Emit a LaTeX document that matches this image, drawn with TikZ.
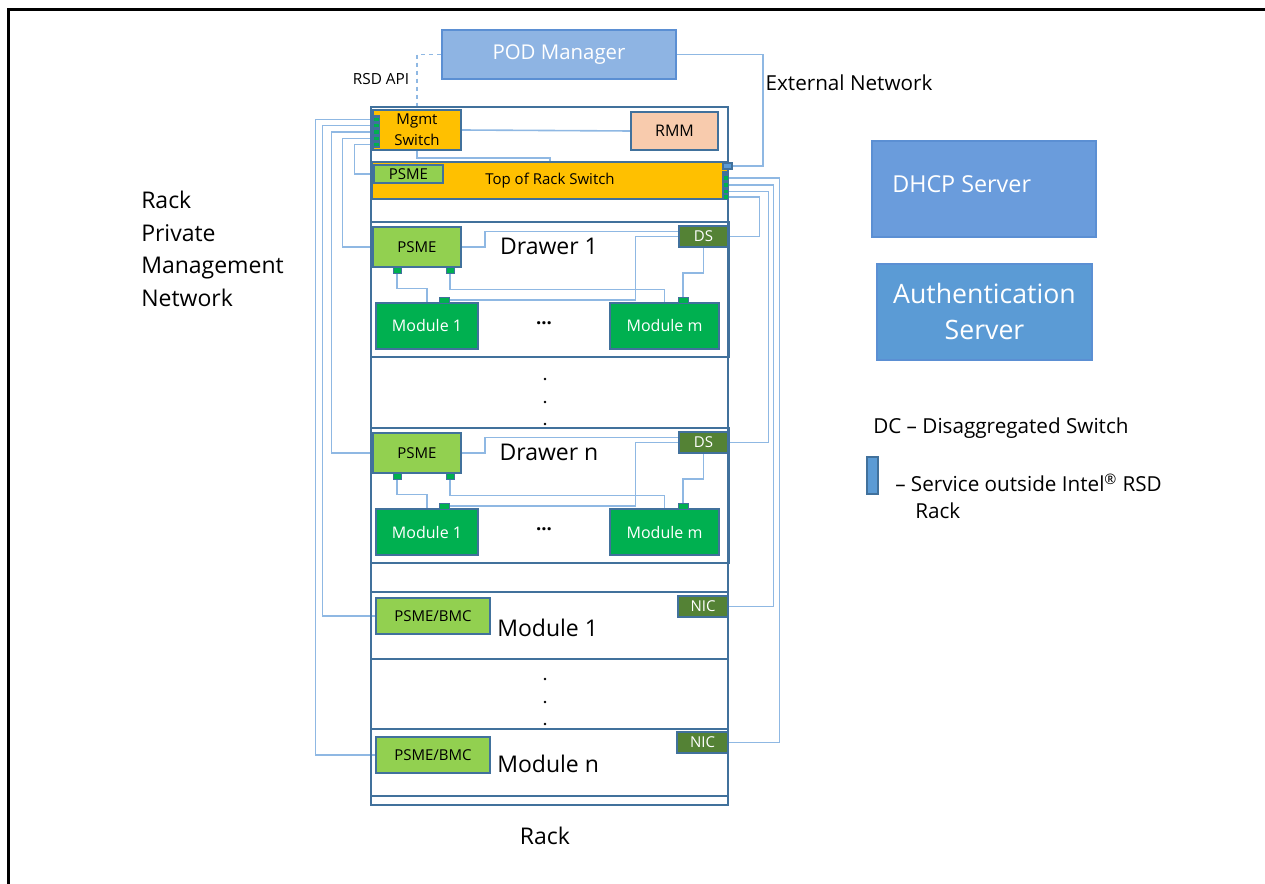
\documentclass[tikz,border=0pt]{standalone}
\usepackage{fontspec}
\setmainfont{Open Sans}
\usetikzlibrary{backgrounds}
\definecolor{bord}{HTML}{41719C}
\definecolor{conn}{HTML}{8FB8E3}
\definecolor{orng}{HTML}{FFC000}
\definecolor{pinkc}{HTML}{F8CBAD}
\definecolor{lgreen}{HTML}{92D050}
\definecolor{mgreen}{HTML}{00B050}
\definecolor{dgreen}{HTML}{548235}
\definecolor{podfill}{HTML}{8EB4E3}
\definecolor{podbord}{HTML}{5B8FD3}
\definecolor{dhcpfill}{HTML}{6A9CDC}
\definecolor{authfill}{HTML}{5B9BD5}

\newcommand\rackdrawer[3]{%
\begin{scope}[yshift=#2]
\draw[bord, line width=1.9pt] (371,222) rectangle (729,357);
\node[box, fill=lgreen, sz={88}{40}, t15] (psme#1) at (417,247) {PSME};
\node[box, fill=dgreen, text=white, sz={49}{21}, t15] (ds#1) at (703.5,236.5) {DS};
\node[box, fill=mgreen, text=white, sz={102}{46}, t16] (ma#1) at (427,326) {Module 1};
\node[box, fill=mgreen, text=white, sz={109}{46}, t16] (mm#1) at (664.5,326) {Module m};
\node[port, sz={8}{6}] (pa#1) at (397,270) {};
\node[port, sz={8}{6}] (pb#1) at (450,270) {};
\node[port, sz={10}{6}] (qa#1) at (444,300) {};
\node[port, sz={10}{6}] (qm#1) at (683,300) {};
\node[t23] (dl#1) at (549,246) {#3};
\node[font=\bfseries\fontsize{14pt}{16pt}\selectfont] (dd#1) at (544,323) {...};
\begin{scope}[on background layer]
\draw[cn] (psme#1.east) -- ++(23,0) |- ([yshift=3.75pt]ds#1.west);
\draw[cn] (pa#1.south) -- ++(0,15) -| (ma#1.north);
\draw[cn] (pb#1.south) -- ++(0,16) -| (mm#1.north);
\draw[cn] (ds#1.south) -- ++(0,25) -| (qm#1.north);
\draw[cn] (qa#1.east) -- ++(186,0) |- (ds#1.west);
\end{scope}
\end{scope}}

\begin{document}
\begin{tikzpicture}[x=0.75pt,y=-0.75pt,
  box/.style={draw=bord, line width=1.1pt, inner sep=0pt, align=center},
  sz/.style 2 args={minimum width=#1*0.75pt, minimum height=#2*0.75pt},
  cn/.style={draw=conn, line width=1.2pt},
  port/.style={draw=bord, fill=mgreen, line width=0.5pt, inner sep=0pt},
  t14/.style={font=\fontsize{10.5pt}{12pt}\selectfont},
  t15/.style={font=\fontsize{11.25pt}{13pt}\selectfont},
  t16/.style={font=\fontsize{12pt}{14pt}\selectfont},
  t19/.style={font=\fontsize{15.5pt}{18pt}\selectfont},
  t23/.style={font=\fontsize{17.25pt}{24.4pt}\selectfont},
  dot/.style={fill=black},
]
\clip (0,0) rectangle (1265,884);
\useasboundingbox (0,0) rectangle (1265,884);
% outer frame
\draw[black, line width=2pt] (8.7,900) -- (8.7,9.7) -- (1280,9.7);

% POD manager
\node[box, draw=podbord, line width=1.6pt, fill=podfill, text=white, sz={234}{49}, font=\fontsize{15.3pt}{18pt}\selectfont] (pod) at (559,54.5) {POD Manager};
\node[font=\fontsize{11.5pt}{14pt}\selectfont] (rsdapi) at (381,79) {RSD API};
\node[t19] (extnet) at (849,83) {External Network};

% rack frame and sections
\draw[bord, line width=1.1pt] (371,107) rectangle (728,805);
\draw[bord, line width=1.1pt] (371,592) rectangle (728,659);
\draw[bord, line width=1.9pt] (371,729) rectangle (728,796);

% top section
\node[box, fill=orng, sz={88}{40}, font=\fontsize{11.25pt}{15.75pt}\selectfont] (mgmt) at (417,130) {Mgmt\\Switch};
\node[box, fill=pinkc, sz={87}{38}, t16] (rmm) at (674.5,131) {RMM};
\node[box, fill=orng, sz={356}{37}, t15] (tor) at (550,180.5) {\raisebox{-3pt}{Top of Rack Switch}};
\node[box, fill=lgreen, sz={69}{18}, t15] (torpsme) at (408.5,174) {PSME};
\draw[bord, line width=1.9pt] (372,162) -- (372,199);

% mgmt ports
\fill[bord] (371,115) rectangle (380,148);
\node[port, sz={6}{4.5}] (mp1) at (376,119.5) {};
\node[port, sz={6}{4.5}] (mp2) at (376,125.5) {};
\node[port, sz={6}{4.5}] (mp3) at (376,132) {};
\node[port, sz={6}{4.5}] (mp4) at (376,138.5) {};
\node[port, sz={6}{4.5}] (mp5) at (376,144.5) {};

% TOR ports
\fill[bord] (722,171) rectangle (729,200);
\node[port, sz={5}{4.5}] (tp1) at (725.5,178) {};
\node[port, sz={5}{4.5}] (tp2) at (725.5,185) {};
\node[port, sz={5}{4.5}] (tp3) at (725.5,191.5) {};
\node[port, sz={5}{4.5}] (tp4) at (725.5,197) {};
\node[draw=bord, fill=authfill, line width=0.8pt, inner sep=0pt, sz={9}{6}] (ext) at (727.5,166) {};

% drawers
\rackdrawer{1}{0pt}{Drawer 1}
\rackdrawer{n}{-154.5pt}{Drawer n}

% dots between sections
\fill[dot] (545,379) circle (1.3);
\fill[dot] (545,402) circle (1.3);
\fill[dot] (545,424) circle (1.3);
\fill[dot] (545,679) circle (1.3);
\fill[dot] (545,702) circle (1.3);
\fill[dot] (545,724) circle (1.3);

% modules
\node[box, fill=lgreen, sz={114}{36}, t15] (bmc1) at (433,616) {PSME/BMC};
\node[box, fill=dgreen, text=white, sz={50}{21}, t15] (nic1) at (703,606.5) {NIC};
\node[t23, anchor=west, inner sep=0pt] (mod1) at (497,628) {Module 1};
\node[box, fill=lgreen, sz={114}{36}, t15] (bmcn) at (433,755) {PSME/BMC};
\node[box, fill=dgreen, text=white, sz={51}{21}, t15] (nicn) at (702.5,742.5) {NIC};
\node[t23, anchor=west, inner sep=0pt] (modn) at (497,764) {Module n};
\node[t23] (rack) at (545,836) {Rack};

% left label
\node[t23, anchor=west, align=left, inner sep=0pt] (rpmn) at (141,249) {Rack\\Private\\Management\\Network};

% right side
\node[box, draw=podbord, fill=dhcpfill, sz={224}{96}] (dhcp) at (984,189) {};
\node[anchor=west, text=white, inner sep=0pt, font=\fontsize{17.5pt}{20pt}\selectfont] (dhcpt) at (892,184) {DHCP Server};
\node[box, draw=podbord, fill=authfill, text=white, sz={215}{96}, font=\fontsize{20pt}{27pt}\selectfont] (auth) at (984.5,312) {Authentication\\Server};

% legend
\node[t19, anchor=west, inner sep=0pt] (leg1) at (873,428) {DC – Disaggregated Switch};
\node[draw=bord, fill=authfill, line width=0.8pt, inner sep=0pt, sz={11}{37}] (legbox) at (872.5,475.5) {};
\node[t19, anchor=west, inner sep=0pt] (leg2) at (895,483) {– Service outside Intel\textsuperscript{®} RSD};
\node[t19, anchor=west, inner sep=0pt] (leg3) at (915,511) {Rack};

% connectors
\begin{scope}[on background layer]
\draw[cn, dashed] (pod.west) -| (mgmt.north);
\draw[cn] (pod.east) -- ++(86,0) |- (ext.east);
\draw[cn] (mgmt.east) -- (rmm.west);
\draw[cn] (mgmt.south) -- ++(0,7) -| (tor.north);
\draw[cn] (mp5.west) -- ++(-18,0) |- (torpsme.west);
\draw[cn] (mp4.west) -- ++(-30,0) |- (psme1.west);
\draw[cn] (mp3.west) -- ++(-41,0) |- (psmen.west);
\draw[cn] (mp2.west) -- ++(-50,0) |- (bmc1.west);
\draw[cn] (mp1.west) -- ++(-57,0) |- (bmcn.west);
\draw[cn] (tp1.east) -- ++(51,0) |- (nicn.east);
\draw[cn] (tp2.east) -- ++(45,0) |- (nic1.east);
\draw[cn] (tp3.east) -- ++(40,0) |- (dsn.east);
\draw[cn] (tp4.east) -- ++(31,0) |- (ds1.east);
\end{scope}
\end{tikzpicture}
\end{document}
